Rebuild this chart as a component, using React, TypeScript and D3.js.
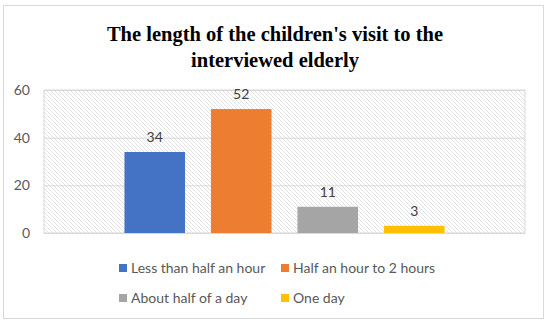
import * as d3 from 'd3';

const categories = ['Less than half an hour', 'Half an hour to 2 hours', 'About half of a day', 'One day'];
const values = [34, 52, 11, 3];
const colors = ['#4472c4', '#ed7d31', '#a5a5a5', '#ffc000'];
const yTicks = [0, 20, 40, 60];
const titleLines = ["The length of the children's visit to the", 'interviewed elderly'];

export default function App() {
  const width = 550;
  const height = 326;
  const plot = { left: 44, top: 90, right: 525, bottom: 233 };

  const x = d3
    .scaleBand<string>()
    .domain(categories)
    .range([plot.left, plot.right])
    .paddingInner(0.3)
    .paddingOuter(0.93);
  const y = d3.scaleLinear().domain([0, 60]).range([plot.bottom, plot.top]);

  const font = 'Lato, "Open Sans", sans-serif';
  const legendPos = [
    { x: 119, y: 268 },
    { x: 281, y: 268 },
    { x: 119, y: 298 },
    { x: 281, y: 298 },
  ];

  return (
    <svg
      width={width}
      height={height}
      style={{ position: 'absolute', left: 0, top: 0, background: '#fff' }}
    >
      <defs>
        <pattern id="hatch" patternUnits="userSpaceOnUse" width={4} height={4}>
          <rect width={4} height={4} fill="#fff" />
          <path d="M-1,-1 L5,5 M-1,3 L1,5 M3,-1 L5,1" stroke="#dcdcdc" strokeWidth={0.8} />
        </pattern>
      </defs>
      <rect x={3.5} y={5.5} width={540} height={313} fill="#fff" stroke="#d9d9d9" />

      {titleLines.map((t, i) => (
        <text
          key={t}
          x={275}
          y={41 + i * 26}
          textAnchor="middle"
          fontFamily='"Liberation Serif", "DejaVu Serif", serif'
          fontWeight="bold"
          fontSize={20.5}
          fill="#000"
        >
          {t}
        </text>
      ))}

      <rect
        x={plot.left}
        y={plot.top}
        width={plot.right - plot.left}
        height={plot.bottom - plot.top}
        fill="url(#hatch)"
        stroke="#d9d9d9"
      />
      {yTicks.map(t => (
        <g key={t}>
          <line x1={plot.left} x2={plot.right} y1={y(t) + 0.5} y2={y(t) + 0.5} stroke="#d9d9d9" strokeWidth={1} />
          <text
            x={30}
            y={y(t)}
            dy="0.35em"
            textAnchor="end"
            fontFamily={font}
            fontSize={14}
            fill="#595959"
          >
            {t}
          </text>
        </g>
      ))}

      {categories.map((c, i) => (
        <g key={c}>
          <rect
            x={x(c)}
            y={y(values[i])}
            width={x.bandwidth()}
            height={y(0) - y(values[i])}
            fill={colors[i]}
          />
          <text
            x={(x(c) ?? 0) + x.bandwidth() / 2}
            y={y(values[i]) - 10}
            textAnchor="middle"
            fontFamily={font}
            fontSize={14}
            fill="#404040"
          >
            {values[i]}
          </text>
        </g>
      ))}

      {categories.map((c, i) => (
        <g key={c} transform={`translate(${legendPos[i].x},${legendPos[i].y})`}>
          <rect x={0} y={-4} width={8} height={8} fill={colors[i]} />
          <text x={12} y={0} dy="0.35em" fontFamily={font} fontSize={14} fill="#595959">
            {c}
          </text>
        </g>
      ))}
    </svg>
  );
}
